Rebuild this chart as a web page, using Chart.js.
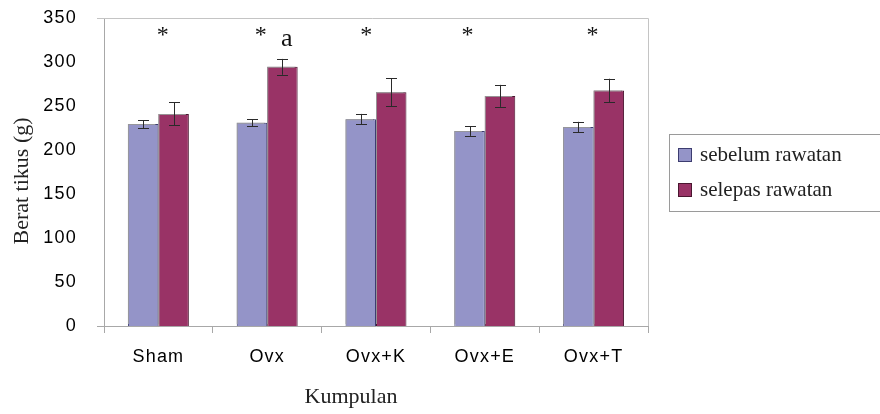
<!DOCTYPE html>
<html>
<head>
<meta charset="utf-8">
<script src="https://cdn.jsdelivr.net/npm/chart.js@4.4.1/dist/chart.umd.min.js"></script>
<style>
  html, body { margin: 0; padding: 0; background: #fff; }
  #wrap { width: 880px; height: 414px; }
</style>
</head>
<body>
<div id="wrap"><canvas id="chart_berat" width="880" height="414"></canvas></div>
<script>
// data
var groups = ['Sham', 'Ovx', 'Ovx+K', 'Ovx+E', 'Ovx+T'];
var sebelum = [229.5, 231, 235, 221.5, 226];
var sebelumErr = [4.5, 4, 6, 5.5, 6];
var selepas = [241, 294.5, 265.5, 261.5, 267.5];
var selepasErr = [13, 9, 16, 12.5, 13.5];
var yTicks = [0, 50, 100, 150, 200, 250, 300, 350];

// significance marks: category index (fractional), value
var starPos = [0.04, 0.94, 1.91, 2.84, 3.99];
var starVal = [329.5, 329.5, 329.5, 329.5, 329.5];
var letterText = ['a'];
var letterPos = [1.18];
var letterVal = [326];

var blue = '#9494c8';
var red = '#993366';

var ctxEl = document.getElementById('chart_berat');

var chart_berat = new Chart(ctxEl, {
    type: 'bar',
    data: {
        labels: groups,
        datasets: [
            {
                label: 'sebelum rawatan',
                data: sebelum,
                errs: sebelumErr,
                backgroundColor: blue,
                borderColor: '#3d3d70',
                borderWidth: 1,
                categoryPercentage: 0.56,
                barPercentage: 1.0
            },
            {
                label: 'selepas rawatan',
                data: selepas,
                errs: selepasErr,
                backgroundColor: red,
                borderColor: '#4a1630',
                borderWidth: 1,
                categoryPercentage: 0.56,
                barPercentage: 1.0
            }
        ]
    },
    options: {
        animation: false,
        responsive: false,
        layout: {
            padding: { left: 0, right: 232, top: 18, bottom: 0 }
        },
        plugins: {
            legend: { display: false },
            tooltip: { enabled: false }
        },
        scales: {
            x: {
                offset: true,
                grid: {
                    offset: true,
                    display: true,
                    drawOnChartArea: false,
                    drawTicks: true,
                    tickLength: 7,
                    color: '#a8a8a8'
                },
                border: { display: true, color: '#a8a8a8' },
                ticks: {
                    color: '#000',
                    padding: 13,
                    font: { family: '"Liberation Sans", Arial', size: 18 }
                },
                afterFit: function(s) {
                    s.height = 88;
                    s.paddingLeft = 0; s.paddingRight = 0;
                }
            },
            y: {
                min: 0,
                max: 350,
                afterBuildTicks: function(s) {
                    s.ticks = yTicks.map(function(v) { return { value: v }; });
                },
                grid: { display: false },
                border: { display: true, color: '#a8a8a8' },
                ticks: {
                    color: '#000',
                    padding: 19,
                    font: { family: '"Liberation Sans", Arial', size: 18 }
                },
                afterFit: function(s) {
                    s.width = 104;
                    s.paddingTop = 0; s.paddingBottom = 0;
                }
            }
        }
    },
    plugins: [{
        id: 'excelLook',
        beforeDraw: (chart) => {
            const ctx = chart.ctx;
            ctx.save();
            ctx.fillStyle = 'white';
            ctx.fillRect(0, 0, chart.width, chart.height);
            ctx.restore();
            ctx.letterSpacing = '1.2px';
        },
        beforeDatasetsDraw: (chart) => {
            const ctx = chart.ctx;
            ctx.letterSpacing = '0px';
            ctx.save();
            ctx.shadowColor = 'rgba(160,160,160,0.9)';
            ctx.shadowOffsetX = -2;
            ctx.shadowOffsetY = -2;
            ctx.shadowBlur = 0;
        },
        afterDatasetsDraw: (chart) => {
            const ctx = chart.ctx;
            ctx.restore();
            const y = chart.scales.y;
            // error bars
            chart.data.datasets.forEach((ds, di) => {
                const meta = chart.getDatasetMeta(di);
                meta.data.forEach((bar, i) => {
                    const hi = y.getPixelForValue(ds.data[i] + ds.errs[i]);
                    const lo = y.getPixelForValue(ds.data[i] - ds.errs[i]);
                    const x = Math.round(bar.x) + 0.5;
                    ctx.save();
                    ctx.strokeStyle = '#2a2a2a';
                    ctx.lineWidth = 1;
                    ctx.beginPath();
                    ctx.moveTo(x, hi); ctx.lineTo(x, lo);
                    ctx.moveTo(x - 5.5, Math.round(hi) + 0.5); ctx.lineTo(x + 5.5, Math.round(hi) + 0.5);
                    ctx.moveTo(x - 5.5, Math.round(lo) + 0.5); ctx.lineTo(x + 5.5, Math.round(lo) + 0.5);
                    ctx.stroke();
                    ctx.restore();
                });
            });
        },
        afterDraw: (chart) => {
            const ctx = chart.ctx;
            const a = chart.chartArea;
            const xs = chart.scales.x, ys = chart.scales.y;
            ctx.save();
            ctx.letterSpacing = '0px';

            // frame: top and right, plus small extensions at left
            ctx.strokeStyle = '#c4c4c4';
            ctx.lineWidth = 1;
            ctx.beginPath();
            ctx.moveTo(a.left - 7, Math.round(a.top) + 0.5);
            ctx.lineTo(Math.round(a.right) + 0.5, Math.round(a.top) + 0.5);
            ctx.lineTo(Math.round(a.right) + 0.5, Math.round(a.bottom));
            ctx.stroke();
            ctx.strokeStyle = '#a8a8a8';
            ctx.beginPath();
            ctx.moveTo(a.left - 7, Math.round(a.bottom) + 0.5);
            ctx.lineTo(a.left, Math.round(a.bottom) + 0.5);
            ctx.stroke();

            // significance marks
            ctx.fillStyle = '#111';
            ctx.textAlign = 'center';
            ctx.textBaseline = 'middle';
            ctx.font = '24px "Liberation Serif", "Times New Roman", serif';
            starPos.forEach((p, i) => {
                ctx.fillText('*', xs.getPixelForValue(p), ys.getPixelForValue(starVal[i]));
            });
            ctx.font = '26px "Liberation Serif", "Times New Roman", serif';
            letterText.forEach((t, i) => {
                ctx.fillText(t, xs.getPixelForValue(letterPos[i]), ys.getPixelForValue(letterVal[i]));
            });

            // axis titles
            ctx.fillStyle = '#222';
            ctx.font = '22px "Liberation Serif", "Times New Roman", serif';
            ctx.textBaseline = 'middle';
            ctx.textAlign = 'center';
            ctx.fillText('Kumpulan', 351, 397);
            ctx.save();
            ctx.translate(22, 181);
            ctx.rotate(-Math.PI / 2);
            ctx.fillText('Berat tikus (g)', 0, 0);
            ctx.restore();

            // legend box
            ctx.strokeStyle = '#9a9a9a';
            ctx.strokeRect(669.5, 134.5, 230, 77);
            ctx.font = '21px "Liberation Serif", "Times New Roman", serif';
            ctx.textAlign = 'left';
            chart.data.datasets.forEach((ds, i) => {
                const cy = 155 + i * 35;
                ctx.fillStyle = ds.backgroundColor;
                ctx.fillRect(678, cy - 7, 14, 14);
                ctx.strokeStyle = ds.borderColor;
                ctx.strokeRect(678.5, cy - 6.5, 13, 13);
                ctx.fillStyle = '#222';
                ctx.fillText(ds.label, 700, cy);
            });
            ctx.restore();
        }
    }]
});
</script>
</body>
</html>
